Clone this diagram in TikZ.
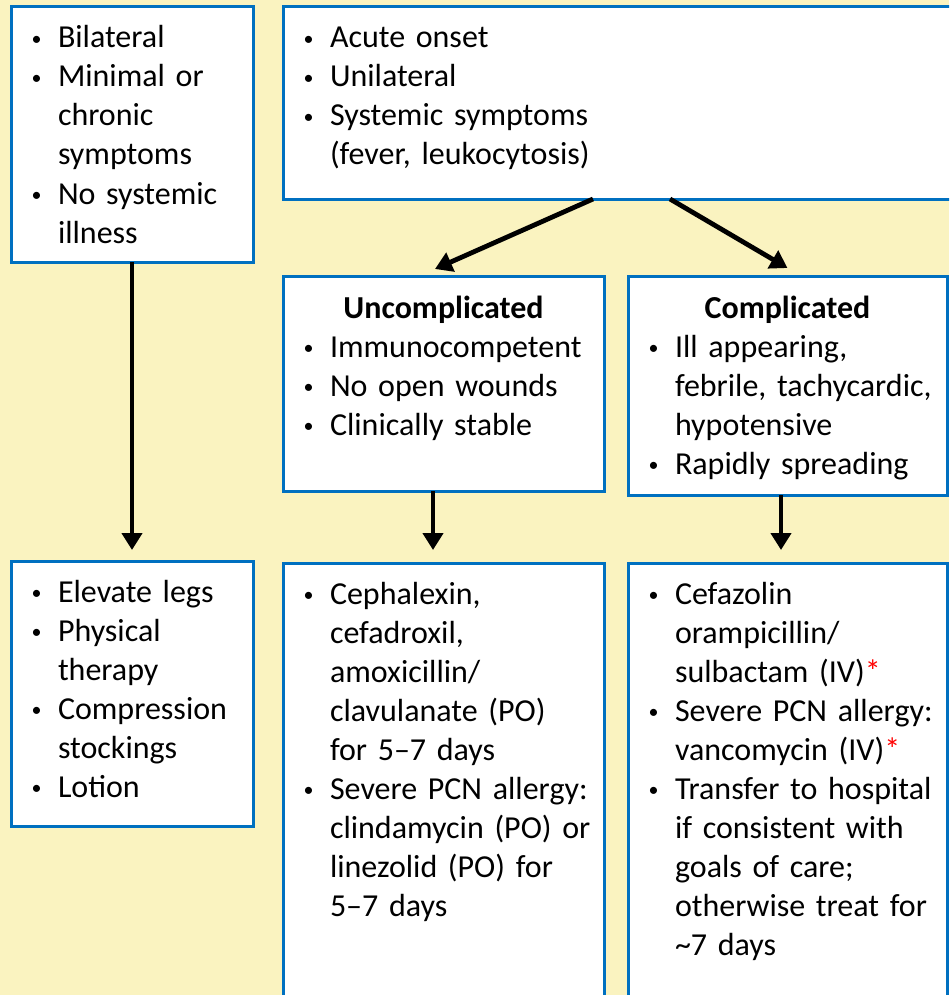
\documentclass[tikz,border=0pt]{standalone}
\usepackage{fontspec}
\setmainfont{Carlito}
\usetikzlibrary{arrows.meta, positioning}
\definecolor{bgyellow}{RGB}{250,243,192}
\definecolor{boxblue}{RGB}{0,112,192}
\hyphenpenalty=10000

\newcommand{\bul}{\makebox[14pt][l]{\hspace{0.8pt}\raisebox{1.2pt}{\fontsize{10}{10}\selectfont\textbullet}}}
\newcommand{\ind}{\hspace*{14pt}}
\newcommand{\redstar}{{\color{red}*}}

\begin{document}
\begin{tikzpicture}[
    box/.style={rectangle, draw=boxblue, line width=1.5pt, fill=white, inner sep=0pt, outer sep=0pt, anchor=north west},
    txt/.style={inner sep=0pt, outer sep=0pt, align=left, font=\fontsize{16}{19.5}\selectfont},
    head/.style={inner sep=0pt, outer sep=0pt, font=\fontsize{16}{19.5}\selectfont\bfseries},
    arrow/.style={-{Triangle[length=8.5pt, width=10pt]}, line width=2.4pt, black}
]

\clip (0,0) rectangle (474.5pt,-497.5pt);
\fill[bgyellow] (0,0) rectangle (474.5pt,-497.5pt);

% --- Row 1: presentation ---
\node (bilat) [box, minimum width=121pt, minimum height=127.5pt] at (5.5pt,-3.5pt) {};
\node (acute) [box, minimum width=338.5pt, minimum height=96pt, right=15pt of bilat.north east, anchor=north west] {};

% --- Row 2: severity ---
\node (uncomp) [box, minimum width=160.5pt, minimum height=107.5pt, below=38.5pt of acute.south west, anchor=north west] {};
\node (comp) [box, minimum width=159.5pt, minimum height=109.5pt, right=12pt of uncomp.north east, anchor=north west] {};

% --- Row 3: treatment ---
\node (conserv) [box, minimum width=121pt, minimum height=132.5pt, below=149.5pt of bilat.south west, anchor=north west] {};
\node (oral) [box, minimum width=160.5pt, minimum height=230pt, below=36pt of uncomp.south west, anchor=north west] {};
\node (iv) [box, minimum width=159.5pt, minimum height=230pt, right=12pt of oral.north east, anchor=north west] {};

% --- Texts ---
\node (bilat_txt) [txt, text width=110pt, below right=20.5pt and 9.5pt of bilat.north west, anchor=base west]
  {\bul Bilateral\\ \bul Minimal or\\ \ind chronic\\ \ind symptoms\\ \bul No systemic\\ \ind illness};
\node (acute_txt) [txt, text width=300pt, below right=20.5pt and 9.5pt of acute.north west, anchor=base west]
  {\bul Acute onset\\ \bul Unilateral\\ \bul Systemic symptoms\\ \ind (fever, leukocytosis)};

\node (uncomp_head) [head, below=21pt of uncomp.north, anchor=base] {Uncomplicated};
\node (uncomp_txt) [txt, text width=150pt, below right=40.5pt and 9.5pt of uncomp.north west, anchor=base west]
  {\bul Immunocompetent\\ \bul No open wounds\\ \bul Clinically stable};
\node (comp_head) [head, below=21pt of comp.north, anchor=base] {Complicated};
\node (comp_txt) [txt, text width=150pt, below right=40.5pt and 9.5pt of comp.north west, anchor=base west]
  {\bul Ill appearing,\\ \ind febrile, tachycardic,\\ \ind hypotensive\\ \bul Rapidly spreading};

\node (conserv_txt) [txt, text width=110pt, below right=20.5pt and 9.5pt of conserv.north west, anchor=base west]
  {\bul Elevate legs\\ \bul Physical\\ \ind therapy\\ \bul Compression\\ \ind stockings\\ \bul Lotion};
\node (oral_txt) [txt, text width=150pt, below right=20.5pt and 9.5pt of oral.north west, anchor=base west]
  {\bul Cephalexin,\\ \ind cefadroxil,\\ \ind amoxicillin/\\ \ind clavulanate (PO)\\ \ind for 5--7 days\\
   \bul Severe PCN allergy:\\ \ind clindamycin (PO) or\\ \ind linezolid (PO) for\\ \ind 5--7 days};
\node (iv_txt) [txt, text width=150pt, below right=20.5pt and 9.5pt of iv.north west, anchor=base west]
  {\bul Cefazolin\\ \ind orampicillin/\\ \ind sulbactam (IV)\redstar\\ \bul Severe PCN allergy:\\ \ind vancomycin (IV)\redstar\\
   \bul Transfer to hospital\\ \ind if consistent with\\ \ind goals of care;\\ \ind otherwise treat for\\ \ind \textasciitilde7 days};

% --- Arrows ---
\draw [arrow, shorten >=5.5pt] (bilat) -- (conserv);
\draw [arrow] ([xshift=-14.25pt]acute.south) -- ([xshift=-4.25pt, yshift=3.5pt]uncomp.north);
\draw [arrow] ([xshift=24.25pt]acute.south) -- ([yshift=4pt]comp.north);
\draw [arrow] ([xshift=-5.25pt]uncomp.south) -- ([xshift=-5.25pt, yshift=6.5pt]oral.north);
\draw [arrow] ([xshift=-3.25pt]comp.south) -- ([xshift=-3.25pt, yshift=6.5pt]iv.north);

\end{tikzpicture}
\end{document}
